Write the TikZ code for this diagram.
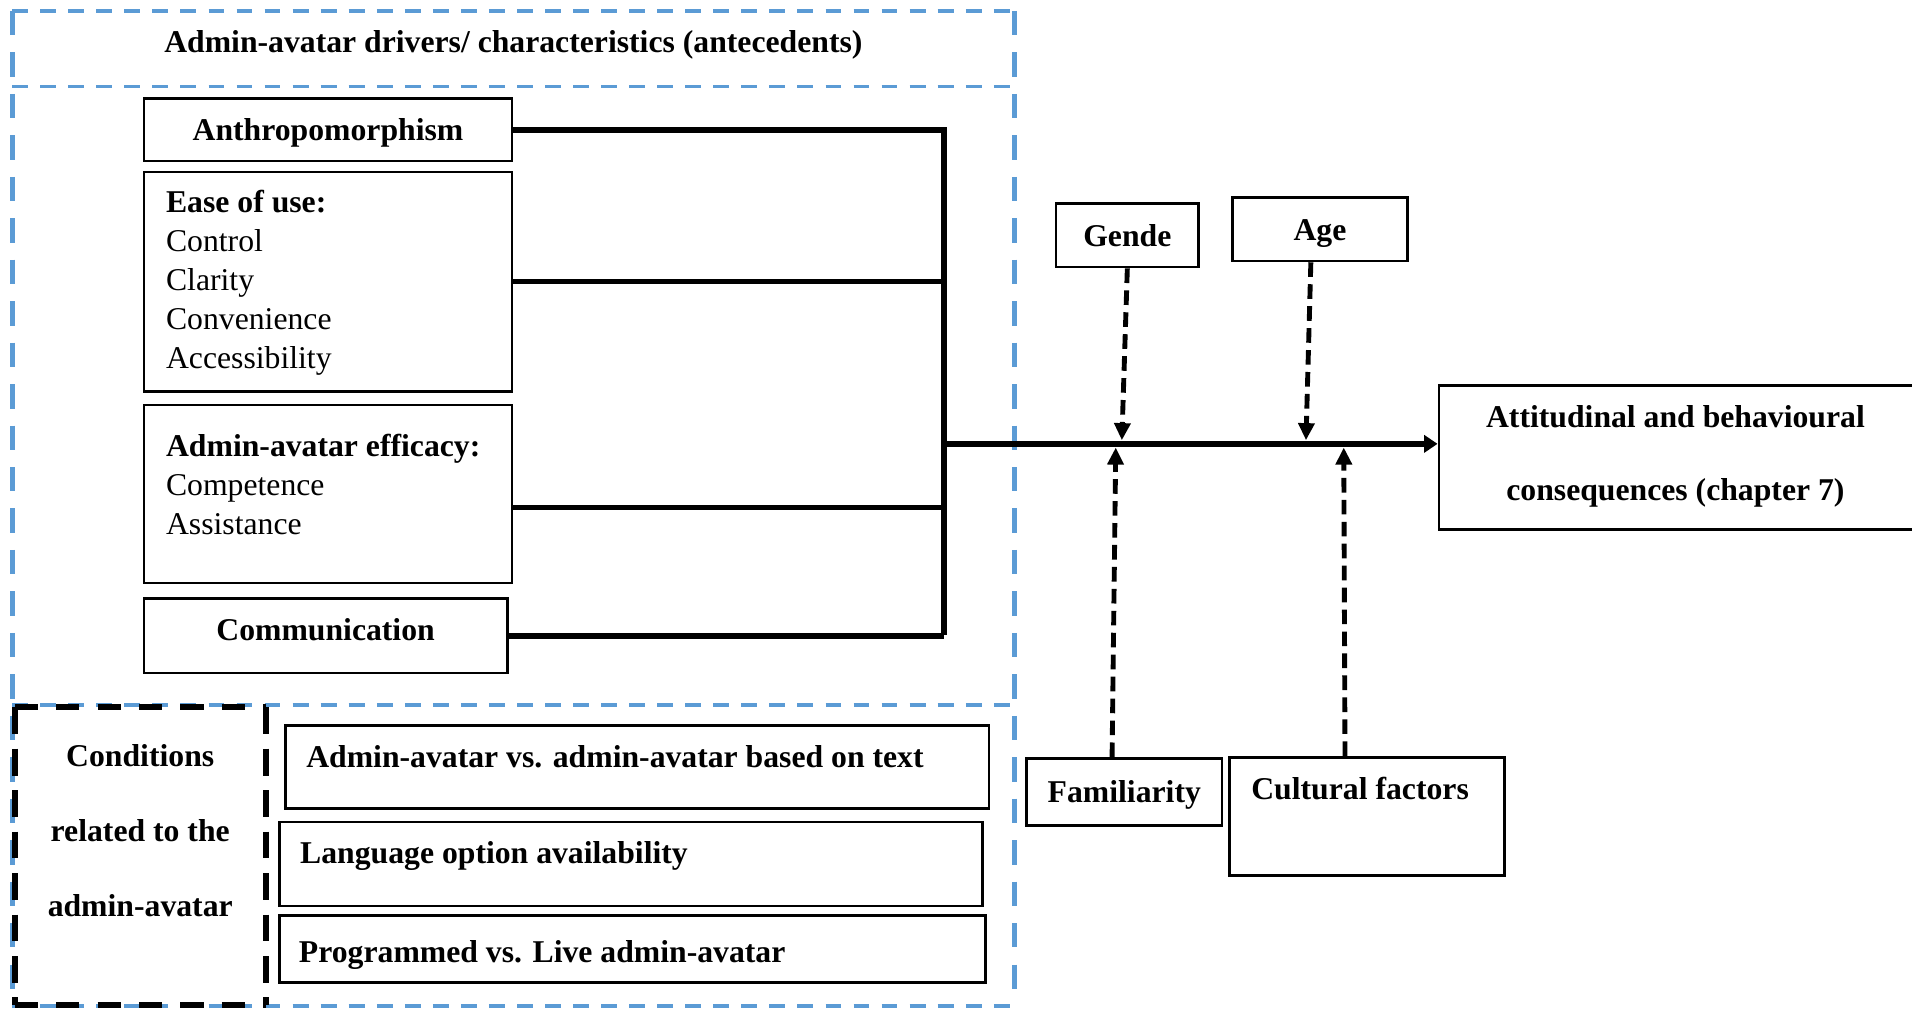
\documentclass[tikz,border=0pt]{standalone}
\usepackage{fontspec}
\setmainfont{Liberation Serif}
\usetikzlibrary{arrows.meta}
\definecolor{frameblue}{HTML}{5B9BD5}
\begin{document}
\begin{tikzpicture}[x=1pt,y=-1pt,
  every node/.style={font=\fontsize{26}{32}\selectfont\bfseries},
  box/.style={draw, line width=2.2pt, inner sep=0pt},
  oneline/.style={text height=21pt, text depth=3pt},
  txt/.style={inner sep=0pt, anchor=west, align=left},
  bluehor/.style={draw=frameblue, line width=3pt, dash pattern=on 13pt off 10pt},
  bluever/.style={draw=frameblue, line width=4pt, dash pattern=on 20pt off 14pt},
  blackhor/.style={draw=black, line width=5pt, dash pattern=on 19pt off 15pt},
  blackver/.style={draw=black, line width=5pt, dash pattern=on 22pt off 12pt},
  conn/.style={line width=4.5pt},
  modarrow/.style={line width=4pt, dash pattern=on 12pt off 6pt,
    -{Triangle[length=14pt,width=13pt]}},
]
\clip (0,0) rectangle (1568,827);
\fill[white] (0,0) rectangle (1568,827);

% dashed blue frames of the antecedents panel
\draw[bluehor] (10,9) -- (832,9);
\draw[bluehor] (10,71) -- (832,71);
\draw[bluehor] (10,578) -- (832,578);
\draw[bluehor] (10,825) -- (832,825);
\draw[bluever] (10,9) -- (10,825);
\draw[bluever] (832,9) -- (832,825);

% black dashed frame of the conditions label
\draw[blackhor] (12,580) -- (218,580);
\draw[blackhor] (12,824) -- (218,824);
\draw[blackver] (12,580) -- (12,824);
\draw[blackver] (218,580) -- (218,824);

\node[oneline] (title) at (421,34) {Admin-avatar drivers/ characteristics (antecedents)};

% antecedent boxes
\node[box, oneline, minimum width=302pt, minimum height=51pt] (anth) at (269,106.5) {Anthropomorphism};
\node[box, minimum width=302pt, minimum height=180pt] (ease) at (269,231) {};
\node[txt] (easet) at (136,232) {Ease of use:\\\mdseries Control\\\mdseries Clarity\\\mdseries Convenience\\\mdseries Accessibility};
\node[box, minimum width=302pt, minimum height=146pt] (eff) at (269,405) {};
\node[txt] (efft) at (136,397) {Admin-avatar efficacy:\\\mdseries Competence\\\mdseries Assistance};
\node[box, minimum width=298pt, minimum height=61pt] (comm) at (267,521.5) {};
\node[oneline] (commt) at (267,516) {Communication};

% condition boxes
\node[align=center, font=\fontsize{26}{61.5}\selectfont\bfseries] (cond) at (115,681) {Conditions\\related to the\\admin-avatar};
\node[box, minimum width=577pt, minimum height=68pt] (c1) at (522.5,629) {};
\node[txt, oneline] (c1t) at (251,620) {Admin-avatar vs. admin-avatar based on text};
\node[box, minimum width=577pt, minimum height=69pt] (c2) at (517.5,708.5) {};
\node[txt, oneline] (c2t) at (246,699) {Language option availability};
\node[box, minimum width=579pt, minimum height=55pt] (c3) at (518.5,778.5) {};
\node[txt, oneline] (c3t) at (245,780) {Programmed vs. Live admin-avatar};

% moderators and outcome
\node[box, oneline, minimum width=117pt, minimum height=52pt] (gende) at (924.5,193) {Gende};
\node[box, oneline, minimum width=143pt, minimum height=52pt] (age) at (1082.5,188) {Age};
\node[box, oneline, minimum width=160pt, minimum height=55pt] (fam) at (922,649.5) {Familiarity};
\node[box, minimum width=226pt, minimum height=97pt] (cult) at (1121,669.5) {};
\node[txt, oneline] (cultt) at (1026,647) {Cultural factors};
\node[box, minimum width=420pt, minimum height=118pt] (att) at (1390,375) {};
\node[align=center, font=\fontsize{26}{60}\selectfont\bfseries] (attt) at (1374,374) {Attitudinal and behavioural\\consequences (chapter 7)};

% connectors from the antecedents to the bus
\coordinate (bb) at (774,521);
\coordinate (bm) at (774,364);
\draw[conn] (anth.east) -| (bb);
\draw[conn] (ease.east) -- (ease.east -| bb);
\draw[conn] ([yshift=-11pt]eff.east) -- ([yshift=-11pt]eff.east -| bb);
\draw[conn] (comm.east) -- (comm.east -| bb);
\draw[conn, -{Triangle[length=11pt,width=14pt]}] (bm) -- (bm -| att.west);

% moderating effects
\coordinate (gin) at (920,361);
\coordinate (ain) at (1071,361);
\coordinate (fin) at (915,367);
\coordinate (cin) at (1102,367);
\draw[modarrow] (gende.south) -- (gin);
\draw[modarrow] ([xshift=-7.5pt]age.south) -- (ain);
\draw[modarrow] ([xshift=-10pt]fam.north) -- (fin);
\draw[modarrow] ([xshift=-18pt]cult.north) -- (cin);
\end{tikzpicture}
\end{document}
